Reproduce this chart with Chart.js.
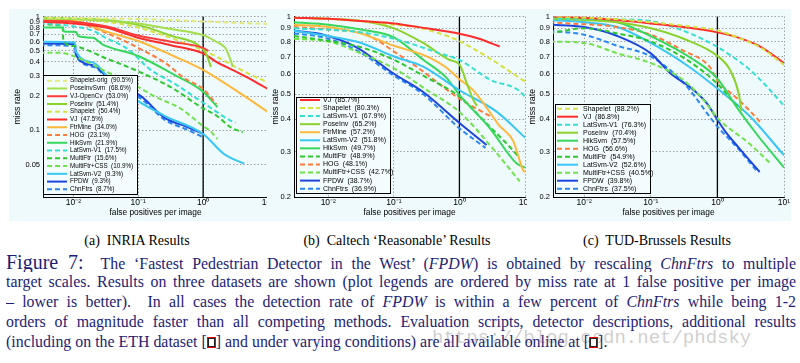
<!DOCTYPE html>
<html>
<head>
<meta charset="utf-8">
<title>Figure 7 - FPDW results</title>
<script src="https://cdn.jsdelivr.net/npm/chart.js@4.4.1/dist/chart.umd.min.js"></script>
<style>
  html, body { margin: 0; padding: 0; background: #fff; }
  body { position: relative; width: 800px; height: 363px; overflow: hidden; }
  .panel { position: absolute; top: 9px; height: 212px; overflow: hidden; background: #eefafc; }
  .panel canvas { position: absolute; left: 0; top: 0; }
  .sub { position: absolute; top: 233px; font: 14px/16px "Liberation Serif", serif; color: #000; white-space: nowrap; transform: translateX(-50%); }
  .cap { position: absolute; left: 6px; top: 252px; width: 790px; font: 15.9px/20px "Liberation Serif", serif; color: #1d1d74; }
  .cap div { height: 20px; overflow: hidden; text-align: justify; text-align-last: justify; }
  .cap div.last { text-align-last: left; }
  .fig { font-size: 20px; }
  .ref { display: inline-block; width: 9px; height: 11px; border: 1.5px solid #e00; box-shadow: inset 0 0 0 1px #222; background: #fff; vertical-align: -1px; box-sizing: border-box; }
  .mark { position: absolute; left: 432px; top: 327px; font: 19px "Liberation Mono", monospace; color: rgba(160,160,160,0.5); white-space: nowrap; }
</style>
</head>
<body>
<div class="panel" style="left:9px;width:258px"><canvas id="inria" width="280" height="212"></canvas></div>
<div class="panel" style="left:267px;width:260px"><canvas id="caltech" width="280" height="212"></canvas></div>
<div class="panel" style="left:527px;width:264px"><canvas id="tud" width="280" height="212"></canvas></div>

<div class="sub" style="left:137px">(a)&nbsp; INRIA Results</div>
<div class="sub" style="left:397px">(b)&nbsp; Caltech ‘Reasonable’ Results</div>
<div class="sub" style="left:657px">(c)&nbsp; TUD-Brussels Results</div>

<div class="mark">https://blog.csdn.net/phdsky</div>
<div class="cap">
  <div><span class="fig">Figure 7:</span>&nbsp; The ‘Fastest Pedestrian Detector in the West’ (<i>FPDW</i>) is obtained by rescaling <i>ChnFtrs</i> to multiple</div>
  <div>target scales. Results on three datasets are shown (plot legends are ordered by miss rate at 1 false positive per image</div>
  <div>– lower is better).&nbsp; In all cases the detection rate of <i>FPDW</i> is within a few percent of <i>ChnFtrs</i> while being 1-2</div>
  <div>orders of magnitude faster than all competing methods. Evaluation scripts, detector descriptions, additional results</div>
  <div class="last">(including on the ETH dataset [<span class="ref"></span>] and under varying conditions) are all available online at [<span class="ref"></span>].</div>
</div>

<script>
// axis ticks
const fppiTicks = [0.01, 0.1, 1, 10];
const fppiTickText = ['10⁻²', '10⁻¹', '10⁰', '10¹'];
const inriaMissTicks = [0.05, 0.1, 0.2, 0.3, 0.4, 0.5, 0.6, 0.7, 0.8, 0.9, 1];
const missTicks = [0.2, 0.3, 0.4, 0.5, 0.6, 0.7, 0.8, 0.9, 1];

// (a) INRIA - legend order, miss rate at 1 fppi, curves as [fppi, miss rate]
const inriaNames = ['Shapelet-orig', 'PoseInvSvm', 'VJ-OpenCv', 'PoseInv', 'Shapelet', 'VJ', 'FtrMine',
  'HOG', 'HikSvm', 'LatSvm-V1', 'MultiFtr', 'MultiFtr+CSS', 'LatSvm-V2', 'FPDW', 'ChnFtrs'];
const inriaRates = [90.5, 68.6, 53.0, 51.4, 50.4, 47.5, 34.0, 23.1, 21.9, 17.5, 15.6, 10.9, 9.3, 9.3, 8.7];
const inriaCurves = [
  [[0.003, 0.98], [0.0316, 0.96], [0.1, 0.95], [0.316, 0.93], [1, 0.905], [3.16, 0.88], [10, 0.86]],
  [[0.003, 0.96], [0.01, 0.95], [0.0316, 0.92], [0.1, 0.87], [0.3, 0.78], [1, 0.686], [1.6, 0.6], [2.2, 0.53], [2.4, 0.48], [2.75, 0.39], [2.85, 0.36]],
  [[0.003, 0.92], [0.01, 0.9], [0.0316, 0.82], [0.1, 0.68], [0.316, 0.6], [1, 0.53], [1.2, 0.5]],
  [[0.003, 0.98], [0.01, 0.96], [0.0316, 0.93], [0.1, 0.84], [0.316, 0.68], [1, 0.514], [1.15, 0.45], [1.32, 0.36]],
  [[0.003, 0.97], [0.0316, 0.9], [0.1, 0.8], [0.316, 0.65], [1, 0.504], [1.8, 0.43], [3.5, 0.35], [6, 0.3], [10, 0.265]],
  [[0.003, 0.9], [0.01, 0.87], [0.0316, 0.8], [0.1, 0.65], [0.316, 0.56], [1, 0.475], [1.6, 0.4], [3, 0.335], [6.2, 0.27], [10, 0.23]],
  [[0.003, 0.94], [0.01, 0.92], [0.0316, 0.74], [0.1, 0.61], [0.35, 0.45], [1, 0.34], [3.8, 0.21], [10, 0.145]],
  [[0.003, 0.93], [0.01, 0.9], [0.0316, 0.72], [0.1, 0.53], [0.28, 0.38], [0.5, 0.29], [1, 0.231], [1.6, 0.17]],
  [[0.003, 0.8], [0.0068, 0.8], [0.0072, 0.74], [0.011, 0.73], [0.012, 0.67], [0.02, 0.65], [0.028, 0.57], [0.1, 0.45], [0.35, 0.31], [1, 0.219], [1.66, 0.16]],
  [[0.003, 0.88], [0.01, 0.82], [0.02, 0.75], [0.0316, 0.65], [0.068, 0.52], [0.155, 0.34], [0.35, 0.26], [1, 0.175], [2.8, 0.12], [3.16, 0.117]],
  [[0.003, 0.85], [0.0068, 0.83], [0.007, 0.62], [0.01, 0.55], [0.0316, 0.43], [0.1, 0.33], [0.316, 0.24], [1, 0.156], [1.6, 0.135], [2.7, 0.106], [4.1, 0.096]],
  [[0.003, 0.48], [0.0063, 0.48], [0.01, 0.45], [0.0316, 0.33], [0.1, 0.24], [0.175, 0.2], [0.46, 0.154], [1, 0.109], [1.26, 0.1], [1.66, 0.084]],
  [[0.003, 0.6], [0.0105, 0.59], [0.011, 0.49], [0.021, 0.39], [0.033, 0.3], [0.076, 0.2], [0.25, 0.135], [1, 0.093], [2.1, 0.062], [4.3, 0.051]],
  [[0.003, 0.58], [0.0105, 0.57], [0.011, 0.46], [0.021, 0.37], [0.036, 0.28], [0.11, 0.2], [0.25, 0.13], [0.57, 0.107], [1, 0.093]],
  [[0.003, 0.56], [0.0105, 0.55], [0.011, 0.45], [0.021, 0.36], [0.036, 0.27], [0.11, 0.19], [0.25, 0.125], [0.6, 0.1], [1, 0.087]]
];

// (b) Caltech 'Reasonable'
const caltechNames = ['VJ', 'Shapelet', 'LatSvm-V1', 'PoseInv', 'FtrMine', 'LatSvm-V2', 'HikSvm',
  'MultiFtr', 'HOG', 'MultiFtr+CSS', 'FPDW', 'ChnFtrs'];
const caltechRates = [85.7, 80.3, 67.9, 65.2, 57.2, 51.8, 49.7, 48.9, 48.1, 42.7, 38.7, 36.9];
const caltechCurves = [
  [[0.003, 0.99], [0.01, 0.98], [0.0316, 0.96], [0.1, 0.94], [0.316, 0.9], [1, 0.857], [2, 0.82], [4.1, 0.765]],
  [[0.003, 0.99], [0.01, 0.98], [0.0316, 0.96], [0.1, 0.93], [0.22, 0.91], [0.5, 0.86], [1, 0.803], [2.6, 0.7], [10, 0.56]],
  [[0.003, 0.9], [0.03, 0.87], [0.12, 0.81], [0.5, 0.72], [1, 0.679], [2.9, 0.57], [9.3, 0.5], [10, 0.485]],
  [[0.003, 0.99], [0.01, 0.98], [0.0316, 0.96], [0.1, 0.9], [0.28, 0.79], [0.7, 0.68], [1, 0.652], [1.3, 0.55], [1.6, 0.48], [1.85, 0.45]],
  [[0.003, 0.93], [0.01, 0.91], [0.0316, 0.86], [0.1, 0.77], [0.28, 0.71], [0.6, 0.64], [1, 0.572], [1.6, 0.52], [2.5, 0.45], [4, 0.38], [6.6, 0.33], [9.3, 0.255], [10, 0.25]],
  [[0.003, 0.88], [0.01, 0.84], [0.0316, 0.79], [0.1, 0.7], [0.28, 0.64], [1, 0.518], [3.6, 0.43], [10, 0.34]],
  [[0.003, 0.95], [0.01, 0.93], [0.0316, 0.89], [0.1, 0.83], [0.28, 0.68], [0.63, 0.58], [1, 0.497], [2.9, 0.37], [7.4, 0.27], [10, 0.26]],
  [[0.003, 0.84], [0.0084, 0.81], [0.0316, 0.76], [0.1, 0.68], [0.28, 0.59], [1, 0.489], [2.6, 0.385], [7.6, 0.29], [8, 0.285]],
  [[0.003, 0.91], [0.01, 0.89], [0.038, 0.85], [0.12, 0.71], [0.22, 0.64], [1, 0.481], [3, 0.41]],
  [[0.003, 0.82], [0.01, 0.8], [0.0316, 0.72], [0.1, 0.63], [0.316, 0.52], [1, 0.427], [3.16, 0.31], [8.3, 0.23]],
  [[0.003, 0.88], [0.0084, 0.85], [0.027, 0.76], [0.1, 0.6], [0.28, 0.51], [1, 0.387], [2.6, 0.318]],
  [[0.003, 0.86], [0.0084, 0.83], [0.027, 0.74], [0.1, 0.59], [0.28, 0.5], [1, 0.369], [2.5, 0.31]]
];

// (c) TUD-Brussels
const tudNames = ['Shapelet', 'VJ', 'LatSvm-V1', 'PoseInv', 'HikSvm', 'HOG', 'MultiFtr', 'LatSvm-V2',
  'MultiFtr+CSS', 'FPDW', 'ChnFtrs'];
const tudRates = [88.2, 86.8, 76.3, 70.4, 57.5, 56.6, 54.9, 52.6, 40.5, 39.8, 37.5];
const tudCurves = [
  [[0.003, 1.0], [0.01, 0.99], [0.0316, 0.975], [0.1, 0.95], [0.316, 0.92], [1, 0.882], [2, 0.83], [4.4, 0.76], [10, 0.65]],
  [[0.003, 1.0], [0.01, 0.99], [0.0316, 0.97], [0.1, 0.94], [0.316, 0.91], [1, 0.868], [2, 0.83], [4.4, 0.765], [10, 0.66]],
  [[0.003, 0.98], [0.01, 0.98], [0.0316, 0.975], [0.1, 0.96], [0.39, 0.86], [0.78, 0.79], [1, 0.763], [3.1, 0.62], [8.7, 0.47], [10, 0.45]],
  [[0.003, 0.98], [0.01, 0.97], [0.0316, 0.95], [0.1, 0.9], [0.31, 0.82], [1, 0.704], [1.55, 0.62], [2.1, 0.5], [2.3, 0.43]],
  [[0.003, 0.99], [0.01, 0.98], [0.0316, 0.95], [0.1, 0.84], [0.44, 0.68], [1, 0.575], [1.9, 0.45], [3.9, 0.35], [10, 0.26]],
  [[0.003, 0.95], [0.006, 0.94], [0.0316, 0.91], [0.1, 0.85], [0.3, 0.74], [0.76, 0.64], [1, 0.566], [2, 0.48], [3.1, 0.43], [4.4, 0.39]],
  [[0.003, 0.86], [0.01, 0.9], [0.0316, 0.86], [0.1, 0.8], [0.316, 0.69], [1, 0.549], [2, 0.45], [2.3, 0.44]],
  [[0.003, 0.97], [0.01, 0.95], [0.0316, 0.91], [0.1, 0.79], [0.37, 0.64], [1, 0.526], [3.1, 0.41], [10, 0.29]],
  [[0.003, 0.8], [0.01, 0.79], [0.0316, 0.72], [0.1, 0.66], [0.3, 0.57], [0.6, 0.48], [1, 0.405], [3.1, 0.32], [6.2, 0.27]],
  [[0.003, 0.93], [0.01, 0.91], [0.0316, 0.84], [0.1, 0.72], [0.2, 0.6], [0.4, 0.53], [0.7, 0.46], [1, 0.398], [1.3, 0.36], [2.1, 0.31], [4.3, 0.25]],
  [[0.003, 0.88], [0.01, 0.85], [0.0316, 0.77], [0.1, 0.7], [0.316, 0.55], [1, 0.375], [2, 0.31], [4, 0.25]]
];

// line colour + dashed flag per detector
const styles = {
  'Shapelet-orig': { color: '#e2ea7a', dash: true },
  'PoseInvSvm':    { color: '#a4de4c', dash: false },
  'VJ-OpenCv':     { color: '#ff3c3c', dash: false },
  'PoseInv':       { color: '#8ad22c', dash: false },
  'Shapelet':      { color: '#d6e23e', dash: true },
  'VJ':            { color: '#ff2c2c', dash: false },
  'FtrMine':       { color: '#ffb83a', dash: false },
  'HOG':           { color: '#ff7a3c', dash: true },
  'HikSvm':        { color: '#36d85c', dash: false },
  'LatSvm-V1':     { color: '#36e0d0', dash: true },
  'MultiFtr':      { color: '#2ec82e', dash: true },
  'MultiFtr+CSS':  { color: '#70e24c', dash: true },
  'LatSvm-V2':     { color: '#38c6f4', dash: false },
  'FPDW':          { color: '#1e46dc', dash: false },
  'ChnFtrs':       { color: '#2a86f0', dash: true }
};

const FONT = '"Liberation Sans", Arial, sans-serif';

// legend drawn inside the plot area, like the matlab one
const boxLegend = {
  id: 'boxLegend',
  afterDatasetsDraw(chart, args, o) {
    const ctx = chart.ctx;
    const items = chart.data.datasets.filter(d => d.label);
    ctx.save();
    ctx.setLineDash([]);
    ctx.fillStyle = '#f4fdfe';
    ctx.fillRect(o.left, o.top, o.width, o.height);
    ctx.lineWidth = 1;
    ctx.strokeStyle = '#000';
    ctx.strokeRect(o.left + 0.5, o.top + 0.5, o.width, o.height);
    ctx.font = o.fontSize + 'px ' + FONT;
    ctx.textBaseline = 'middle';
    items.forEach((d, i) => {
      const y = o.first + i * o.step;
      ctx.strokeStyle = d.borderColor;
      ctx.lineWidth = 2;
      ctx.setLineDash(d.borderDash);
      ctx.beginPath();
      ctx.moveTo(o.lineFrom, y);
      ctx.lineTo(o.lineTo, y);
      ctx.stroke();
      ctx.setLineDash([]);
      ctx.fillStyle = '#000';
      ctx.fillText(d.label, o.textX, y);
    });
    ctx.restore();
  }
};

function makeChart(id, names, rates, curves, yTicks, frame, legendBox) {
  const datasets = names.map((name, i) => ({
    label: name + '  (' + rates[i].toFixed(1) + '%)',
    data: curves[i].map(p => ({ x: p[0], y: p[1] })),
    borderColor: styles[name].color,
    borderWidth: 2,
    borderDash: styles[name].dash ? [5, 3] : [],
    pointRadius: 0,
    cubicInterpolationMode: 'monotone',
    fill: false,
    order: 0
  }));
  // 1 fppi reference line
  datasets.push({
    data: [{ x: 1, y: frame.yMin }, { x: 1, y: 1 }],
    borderColor: '#000', borderWidth: 1.3, pointRadius: 0, fill: false, order: 5
  });

  const gridOpts = { color: '#8a8a8a', lineWidth: 0.8, drawTicks: false };
  const borderOpts = { display: true, color: '#000', width: 1, dash: [1.5, 2] };

  return new Chart(document.getElementById(id), {
    type: 'line',
    data: { datasets },
    options: {
      responsive: false,
      animation: false,
      events: [],
      layout: { padding: frame.pad },
      plugins: { legend: { display: false }, tooltip: { enabled: false }, boxLegend: legendBox },
      scales: {
        x: {
          type: 'logarithmic', min: frame.xMin, max: 10, bounds: 'data',
          afterBuildTicks: s => { s.ticks = fppiTicks.map(v => ({ value: v })); },
          afterFit: s => { s.height = frame.xh; },
          ticks: {
            autoSkip: false, maxRotation: 0, padding: 1, color: '#000',
            font: { family: FONT, size: 8.5 },
            callback: v => { const k = fppiTicks.indexOf(v); return k < 0 ? '' : fppiTickText[k]; }
          },
          grid: gridOpts, border: borderOpts,
          title: { display: true, text: 'false positives per image', color: '#000', padding: 0, font: { family: FONT, size: 8.4 } }
        },
        y: {
          type: 'logarithmic', min: frame.yMin, max: 1, bounds: 'data',
          afterBuildTicks: s => { s.ticks = yTicks.map(v => ({ value: v })); },
          afterFit: s => { s.width = frame.yw; },
          ticks: {
            autoSkip: false, padding: 3, color: '#000',
            font: { family: FONT, size: 7.5 },
            callback: v => String(v)
          },
          grid: gridOpts, border: borderOpts,
          title: { display: true, text: 'miss rate', color: '#000', padding: 0, font: { family: FONT, size: 8.8 } }
        }
      }
    },
    plugins: [boxLegend]
  });
}

makeChart('inria', inriaNames, inriaRates, inriaCurves, inriaMissTicks,
  { xMin: 0.0034, yMin: 0.026, yw: 31, xh: 21, pad: { left: 3, top: 7, right: 21, bottom: 3 } },
  { left: 34, top: 66, width: 94, height: 119, first: 71.7, step: 7.76, lineFrom: 38, lineTo: 58, textX: 61, fontSize: 6.3 });

makeChart('caltech', caltechNames, caltechRates, caltechCurves, missTicks,
  { xMin: 0.003, yMin: 0.2, yw: 24, xh: 21, pad: { left: 3, top: 6, right: 22, bottom: 3 } },
  { left: 29, top: 88, width: 94, height: 96, first: 91, step: 8.06, lineFrom: 33, lineTo: 53, textX: 56, fontSize: 7 });

makeChart('tud', tudNames, tudRates, tudCurves, missTicks,
  { xMin: 0.0034, yMin: 0.2, yw: 26, xh: 21, pad: { left: 0, top: 6, right: 23, bottom: 3 } },
  { left: 28, top: 95, width: 95, height: 89, first: 99.7, step: 8.0, lineFrom: 30, lineTo: 51, textX: 56, fontSize: 7 });
</script>
</body>
</html>
